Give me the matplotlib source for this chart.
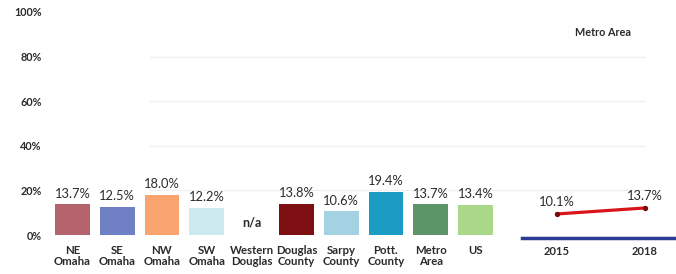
import matplotlib
matplotlib.use("Agg")
import matplotlib.pyplot as plt

plt.rcParams['font.family'] = ['Lato', 'DejaVu Sans']

categories = ["NE\nOmaha", "SE\nOmaha", "NW\nOmaha", "SW\nOmaha", "Western\nDouglas",
              "Douglas\nCounty", "Sarpy\nCounty", "Pott.\nCounty", "Metro\nArea", "US"]
values = [13.7, 12.5, 18.0, 12.2, None, 13.8, 10.6, 19.4, 13.7, 13.4]
colors = ["#b5636d", "#6f80c4", "#f9a36e", "#cdeaf0", "#ffffff",
          "#7d0f12", "#a4d2e3", "#1a9cc4", "#5c9668", "#a9d889"]
yticks = [0, 20, 40, 60, 80, 100]

trend_years = [2015, 2018]
trend_values = [10.1, 13.7]
trend_title = "Metro Area"

W, H = 676, 274
fig = plt.figure(figsize=(W / 100, H / 100), dpi=100)
TXT = "#2b2b2b"
WT = "bold"

# main bar axes
left_px, right_px, bottom_px, top_px = 50, 660, 235, 12
ax = fig.add_axes([left_px / W, (H - bottom_px) / H, (right_px - left_px) / W, (bottom_px - top_px) / H])
unit = 44.8
ax.set_xlim(-0.5, -0.5 + (right_px - left_px) / unit)
ax.set_ylim(0, 100)

# faint gridlines
gx0 = (150 - left_px) / unit - 0.5
gx1 = (645 - left_px) / unit - 0.5
for t in yticks[1:-1]:
    ax.plot([gx0, gx1], [t, t], color="#f0f0f0", lw=1, zorder=0)

xs = list(range(len(categories)))
for x, v, c in zip(xs, values, colors):
    if v is None:
        ax.text(x, 5.5, "n/a", ha="center", va="center", fontsize=9, color=TXT, fontweight=WT)
        continue
    ax.bar(x, v, width=0.78, color=c, zorder=2)
    ax.annotate(f"{v:.1f}%", (x, v), xytext=(0, 3.5), textcoords="offset points",
                ha="center", va="bottom", fontsize=9.3, color=TXT)

ax.set_xticks(xs)
ax.set_xticklabels(categories, fontsize=8.2, color=TXT, linespacing=0.92, fontweight=WT)
ax.tick_params(axis="x", length=0, pad=7.5)
ax.set_yticks(yticks)
ax.set_yticklabels([f"{t}%" for t in yticks], fontsize=7.8, color=TXT, fontweight=WT)
ax.tick_params(axis="y", length=0, pad=6)
for s in ax.spines.values():
    s.set_visible(False)
ax.patch.set_alpha(0)

# inset trend axes
il, ib = 522, 237.5
iax = fig.add_axes([il / W, (H - ib) / H, (W - il) / W, (ib - 12) / H])
px_per_yr = 29.33
iax.set_xlim(2015 - (557 - il) / px_per_yr, 2018 + (W - 645) / px_per_yr)
ppu = 1.667
iax.set_ylim(-(ib - 230.8) / ppu, -(ib - 230.8) / ppu + (ib - 12) / ppu)
iax.plot(trend_years, trend_values, color="#d9151b", lw=2.3, marker="o", ms=2.8,
         markerfacecolor="#7a0a0a", markeredgecolor="#7a0a0a", zorder=3)
for yr, v in zip(trend_years, trend_values):
    iax.annotate(f"{v:.1f}%", (yr, v), xytext=(0, 4), textcoords="offset points",
                 ha="center", va="bottom", fontsize=9.3, color=TXT)
iax.set_xticks(trend_years)
iax.set_xticklabels([str(y) for y in trend_years], fontsize=8, color=TXT, fontweight=WT)
iax.tick_params(axis="x", length=0, pad=6)
iax.set_yticks([])
for k, s in iax.spines.items():
    s.set_visible(k == "bottom")
iax.spines["bottom"].set_color("#2b3a92")
iax.spines["bottom"].set_linewidth(2.5)
iax.patch.set_alpha(0)
fig.text(603 / W, 1 - 32 / H, trend_title, ha="center", va="center", fontsize=7.8,
         fontweight="bold", color=TXT)

fig.savefig("out.png", dpi=100)
